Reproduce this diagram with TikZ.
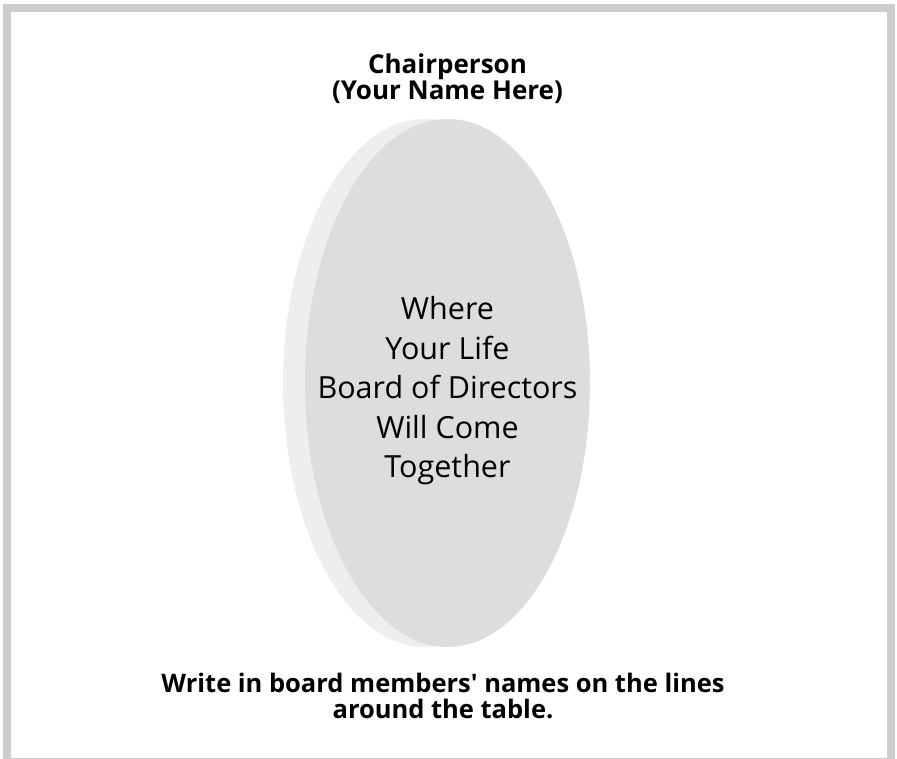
\documentclass[tikz,border=0pt]{standalone}
\usepackage{fontspec}
\setmainfont{Open Sans}[Ligatures=TeXOff]
\usetikzlibrary{shapes.geometric,positioning}

\begin{document}
\begin{tikzpicture}[x=1pt,y=-1pt,node distance=15pt,
    tabletop/.style={ellipse,fill=gray!27,inner sep=0pt,minimum width=285pt,minimum height=528pt},
    tableedge/.style={ellipse,fill=gray!13,inner sep=0pt,minimum width=284pt,minimum height=528pt},
    label/.style={align=center,inner sep=0pt,font=\bfseries\fontsize{26}{26}\selectfont}]
  \useasboundingbox (0,0) rectangle (897,759);
  \clip (0,0) rectangle (897,759);
  \draw[line width=8pt,gray!40] (7,8.5) rectangle (891,762);

  \node[tableedge] (edge)  at (425,383) {};
  \node[tabletop]  (table) at (447.5,383) {};
  \node[align=center,inner sep=0pt,font=\fontsize{30.5}{39.5}\selectfont] (purpose) at (447.5,391)
    {Where\\Your Life\\Board of Directors\\Will Come\\Together};

  \node[label] (chair) [above=of table] {Chairperson\\(Your Name Here)};
  \node[label,font=\bfseries\fontsize{25.5}{26}\selectfont] (note) at (443,696)
    {Write in board members' names on the lines\\around the table.};
\end{tikzpicture}
\end{document}
